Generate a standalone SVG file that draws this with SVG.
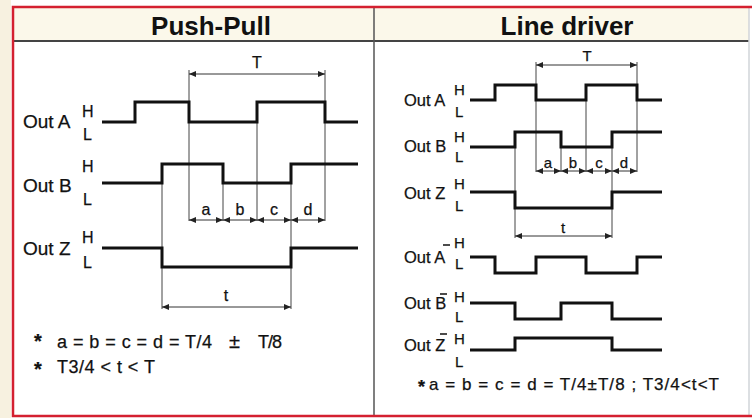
<svg xmlns="http://www.w3.org/2000/svg" width="752" height="418" viewBox="0 0 752 418">
<defs>
<marker id="arr" viewBox="0 0 7 6" markerWidth="7" markerHeight="6" refX="7" refY="3" orient="auto-start-reverse" markerUnits="userSpaceOnUse">
<path d="M0,0 L7,3 L0,6 z" fill="#222"/>
</marker>
<style>
.sig{fill:none;stroke:#111;stroke-width:3;stroke-linejoin:miter}
.ext{stroke:#444;stroke-width:1;fill:none}
.dim{stroke:#333;stroke-width:1;fill:none;marker-start:url(#arr);marker-end:url(#arr)}
.t{font-family:"Liberation Sans",Arial,sans-serif;fill:#111;stroke:#111;stroke-width:0.25}
.title{font-size:26px;font-weight:bold;text-anchor:middle;stroke:none}
.lbl{font-size:19px}
.lblr{font-size:16.5px}
.hl{font-size:16px}
.hlr{font-size:15px}
.dl{font-size:16px;text-anchor:middle}
.dlr{font-size:15px;text-anchor:middle}
.bar{stroke:#111;stroke-width:1.5}
</style>
</defs>
<rect x="0" y="0" width="752" height="418" fill="#ffffff"/>
<rect x="0" y="0" width="11" height="418" fill="#f7f1e0"/>
<g id="frame">
<rect x="13" y="7" width="736" height="34" fill="#fbf8ea"/>
<line x1="13" y1="41" x2="749" y2="41" stroke="#444" stroke-width="2"/>
<line x1="374" y1="7" x2="374" y2="416" stroke="#555" stroke-width="1.5"/>
<line x1="749" y1="7" x2="749" y2="416" stroke="#d0d4d8" stroke-width="1.5"/>
<path d="M752,7 H13 V416 H752" fill="none" stroke="#d42030" stroke-width="2.5"/>
<text class="t title" x="211" y="35">Push-Pull</text>
<text class="t title" x="567" y="35">Line driver</text>
</g>
<g id="connectors">
<path class="ext" d="M189,70 V221 M325,70 V221 M257,102 V221 M223,164 V221 M162,164 V309 M291,164 V309"/>
<line class="dim" x1="189" y1="74" x2="325" y2="74"/>
<line class="dim" x1="189" y1="220" x2="223" y2="220"/>
<line class="dim" x1="223" y1="220" x2="257" y2="220"/>
<line class="dim" x1="257" y1="220" x2="291" y2="220"/>
<line class="dim" x1="291" y1="220" x2="325" y2="220"/>
<line class="dim" x1="162" y1="307" x2="291" y2="307"/>
<path class="ext" d="M536,62 V172 M637,62 V172 M586,85 V172 M561,132 V172 M515,132 V238 M612,132 V238"/>
<line class="dim" x1="536" y1="65" x2="637" y2="65"/>
<line class="dim" x1="536" y1="171" x2="561" y2="171"/>
<line class="dim" x1="561" y1="171" x2="586" y2="171"/>
<line class="dim" x1="586" y1="171" x2="612" y2="171"/>
<line class="dim" x1="612" y1="171" x2="637" y2="171"/>
<line class="dim" x1="515" y1="236" x2="612" y2="236"/>
<text class="t dl" x="257" y="68">T</text>
<text class="t dl" x="206" y="215">a</text>
<text class="t dl" x="240" y="215">b</text>
<text class="t dl" x="274" y="215">c</text>
<text class="t dl" x="308" y="215">d</text>
<text class="t dl" x="226" y="301">t</text>
<text class="t dlr" x="587" y="61">T</text>
<text class="t dlr" x="548" y="168">a</text>
<text class="t dlr" x="573" y="168">b</text>
<text class="t dlr" x="599" y="168">c</text>
<text class="t dlr" x="624" y="168">d</text>
<text class="t dlr" x="563" y="233">t</text>
</g>
<g id="pp-outA">
<text class="t lbl" x="23" y="128">Out A</text>
<text class="t hl" x="82" y="117">H</text>
<text class="t hl" x="83" y="140">L</text>
<path class="sig" d="M102,122 H135 V102 H189 V122 H257 V102 H325 V122 H358"/>
</g>
<g id="pp-outB">
<text class="t lbl" x="23" y="192">Out B</text>
<text class="t hl" x="82" y="172">H</text>
<text class="t hl" x="83" y="205">L</text>
<path class="sig" d="M102,183 H162 V164 H223 V183 H291 V164 H358"/>
</g>
<g id="pp-outZ">
<text class="t lbl" x="23" y="255">Out Z</text>
<text class="t hl" x="82" y="243">H</text>
<text class="t hl" x="83" y="268">L</text>
<path class="sig" d="M102,248 H162 V267 H291 V248 H358"/>
</g>
<g id="pp-notes">
<text class="t" x="34" y="348" font-size="20" font-weight="bold">*</text>
<text class="t" x="57" y="348" font-size="18" textLength="155" lengthAdjust="spacing">a = b = c = d = T/4</text>
<text class="t" x="229" y="348" font-size="20">±</text>
<text class="t" x="258" y="348" font-size="18" textLength="24" lengthAdjust="spacing">T/8</text>
<text class="t" x="34" y="376" font-size="20" font-weight="bold">*</text>
<text class="t" x="57" y="373" font-size="18" textLength="98" lengthAdjust="spacing">T3/4 &lt; t &lt; T</text>
</g>
<g id="ld-outA">
<text class="t lblr" x="404" y="106">Out A</text>
<text class="t hlr" x="454" y="95">H</text>
<text class="t hlr" x="455" y="117">L</text>
<path class="sig" d="M470,100 H495 V85 H536 V100 H586 V85 H637 V100 H662"/>
</g>
<g id="ld-outB">
<text class="t lblr" x="404" y="152">Out B</text>
<text class="t hlr" x="454" y="142">H</text>
<text class="t hlr" x="455" y="162">L</text>
<path class="sig" d="M470,147 H515 V132 H561 V147 H612 V132 H662"/>
</g>
<g id="ld-outZ">
<text class="t lblr" x="404" y="199">Out Z</text>
<text class="t hlr" x="454" y="189">H</text>
<text class="t hlr" x="455" y="211">L</text>
<path class="sig" d="M470,192 H515 V208 H612 V192 H662"/>
</g>
<g id="ld-outAbar">
<text class="t lblr" x="404" y="263">Out A</text>
<line class="bar" x1="443" y1="245" x2="450" y2="245"/>
<text class="t hlr" x="454" y="248">H</text>
<text class="t hlr" x="455" y="269">L</text>
<path class="sig" d="M470,257 H495 V273 H536 V257 H586 V273 H637 V257 H662"/>
</g>
<g id="ld-outBbar">
<text class="t lblr" x="404" y="309">Out B</text>
<line class="bar" x1="440" y1="294" x2="447" y2="294"/>
<text class="t hlr" x="454" y="302">H</text>
<text class="t hlr" x="455" y="322">L</text>
<path class="sig" d="M470,303 H515 V319 H561 V303 H612 V319 H662"/>
</g>
<g id="ld-outZbar">
<text class="t lblr" x="404" y="351">Out Z</text>
<line class="bar" x1="440" y1="334" x2="447" y2="334"/>
<text class="t hlr" x="454" y="344">H</text>
<text class="t hlr" x="455" y="367">L</text>
<path class="sig" d="M470,350 H515 V338 H612 V350 H662"/>
</g>
<g id="ld-notes">
<text class="t" x="418" y="393" font-size="18" font-weight="bold">*</text>
<text class="t" x="429" y="390" font-size="17" textLength="290" lengthAdjust="spacing">a = b = c = d = T/4±T/8 ; T3/4&lt;t&lt;T</text>
</g>
</svg>
